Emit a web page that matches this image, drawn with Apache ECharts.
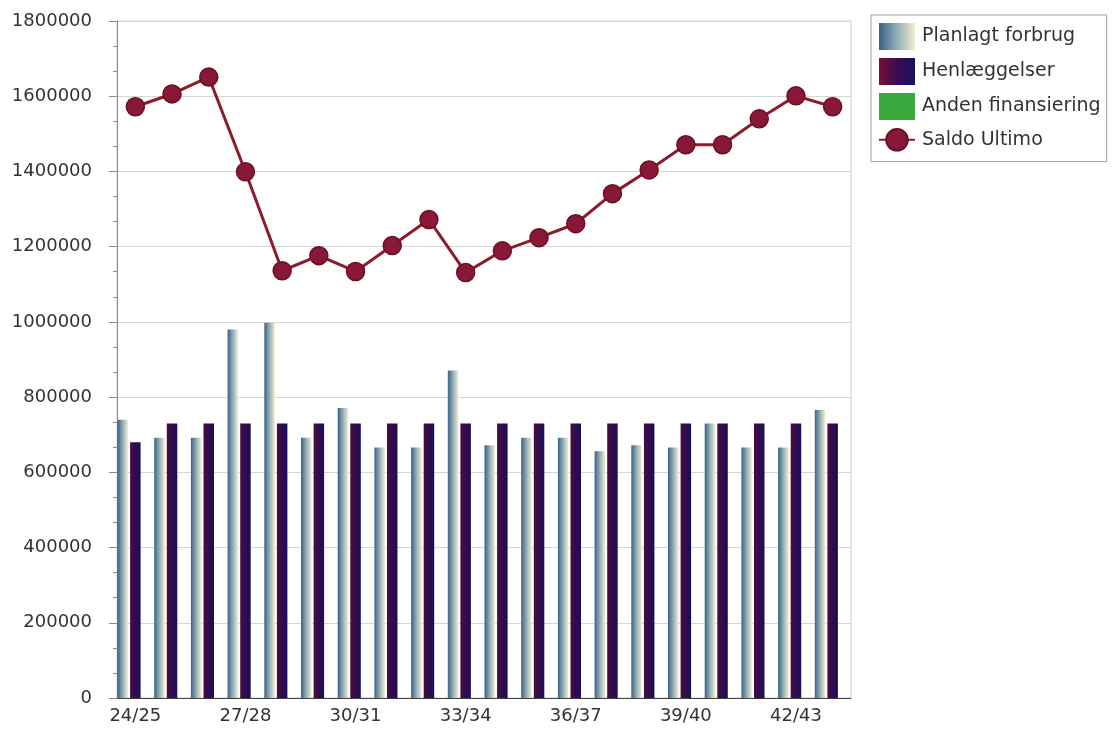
<!DOCTYPE html>
<html>
<head>
<meta charset="utf-8">
<script src="https://cdn.jsdelivr.net/npm/echarts@6/dist/echarts.min.js"></script>
<style>html,body{margin:0;padding:0;background:#fff}#c{width:1115px;height:743px}</style>
</head>
<body>
<div id="c"></div>
<script>
var categories = ['24/25','25/26','26/27','27/28','28/29','29/30','30/31','31/32','32/33','33/34','34/35','35/36','36/37','37/38','38/39','39/40','40/41','41/42','42/43','43/44'];
var planlagtForbrug = [740000,692000,692000,980000,998000,692000,771000,666000,666000,871000,672000,692000,692000,656000,672000,666000,730000,666000,666000,766000];
var henlaeggelser = [680000,730000,730000,730000,730000,730000,730000,730000,730000,730000,730000,730000,730000,730000,730000,730000,730000,730000,730000,730000];
var andenFinansiering = [0,0,0,0,0,0,0,0,0,0,0,0,0,0,0,0,0,0,0,0];
var saldoUltimo = [1572000,1606000,1651000,1399000,1136000,1176000,1134000,1203000,1272000,1131000,1189000,1224000,1261000,1341000,1404000,1471000,1471000,1540000,1601000,1572000];
var yTicks = {min:0, max:1800000, interval:200000};

var font = 'DejaVu Sans';
var chart = echarts.init(document.getElementById('c'));
chart.setOption({
  animation:false,
  backgroundColor:'#fff',
  textStyle:{fontFamily:font},
  grid:{left:117,right:264,top:21,bottom:45,show:true,borderColor:'#cfcfcf',borderWidth:1,backgroundColor:'transparent'},
  legend:{
    orient:'vertical', left:871, top:15,
    padding:[8,6,10,7],
    width:242,
    itemWidth:36, itemHeight:27, itemGap:8,
    borderColor:'#a0a0a0', borderWidth:1,
    textStyle:{fontFamily:font,fontSize:19,color:'#333',padding:[0,0,0,2]},
    data:[
      {name:'Planlagt forbrug', icon:'rect'},
      {name:'Henlæggelser', icon:'rect', itemStyle:{color:new echarts.graphic.LinearGradient(0,0,1,0,[{offset:0,color:'#7a1034'},{offset:0.5,color:'#3a0c50'},{offset:1,color:'#14125e'}])}},
      {name:'Anden finansiering', icon:'rect', itemStyle:{color:'#3aaa3e'}},
      {name:'Saldo Ultimo'}
    ]
  },
  xAxis:{
    type:'category', data:categories,
    axisLine:{lineStyle:{color:'#404040',width:1}},
    axisTick:{alignWithLabel:true, interval:2, length:7, lineStyle:{color:'#606060'}},
    axisLabel:{interval:2, fontSize:18, color:'#333', margin:9, fontFamily:font},
    splitLine:{show:false}
  },
  yAxis:{
    type:'value', min:yTicks.min, max:yTicks.max, interval:yTicks.interval,
    axisLine:{show:true, lineStyle:{color:'#8a8a8a'}},
    axisTick:{show:true, length:8, lineStyle:{color:'#8a8a8a'}},
    minorTick:{show:true, splitNumber:3, length:4, lineStyle:{color:'#8a8a8a'}},
    axisLabel:{fontSize:18, color:'#333', margin:25, fontFamily:font, formatter:function(v){return String(v);}},
    splitLine:{lineStyle:{color:'#d6d6d6'}}
  },
  series:[
    {
      name:'Planlagt forbrug', type:'bar', data:planlagtForbrug,
      barWidth:10.5, barGap:'20%',
      itemStyle:{color:new echarts.graphic.LinearGradient(0,0,1,0,[
        {offset:0,color:'#3a6283'},{offset:0.45,color:'#8aa6b4'},{offset:1,color:'#f2eed2'}])}
    },
    {
      name:'Henlæggelser', type:'bar', data:henlaeggelser,
      barWidth:10.5, barGap:'20%',
      itemStyle:{color:new echarts.graphic.LinearGradient(0,0,1,0,[
        {offset:0,color:'#4c0c3c'},{offset:0.5,color:'#300c4e'},{offset:1,color:'#1a0e5e'}])}
    },
    {
      name:'Anden finansiering', type:'bar', data:andenFinansiering,
      barWidth:10.5, barGap:'20%',
      itemStyle:{color:'#3aaa3e'}
    },
    {
      name:'Saldo Ultimo', type:'line', data:saldoUltimo,
      symbol:'circle', symbolSize:18,
      lineStyle:{color:'#8a1c2c', width:3},
      itemStyle:{color:'#88183a', borderColor:'#6a1020', borderWidth:1.5},
      z:5
    }
  ]
});
</script>
</body>
</html>
